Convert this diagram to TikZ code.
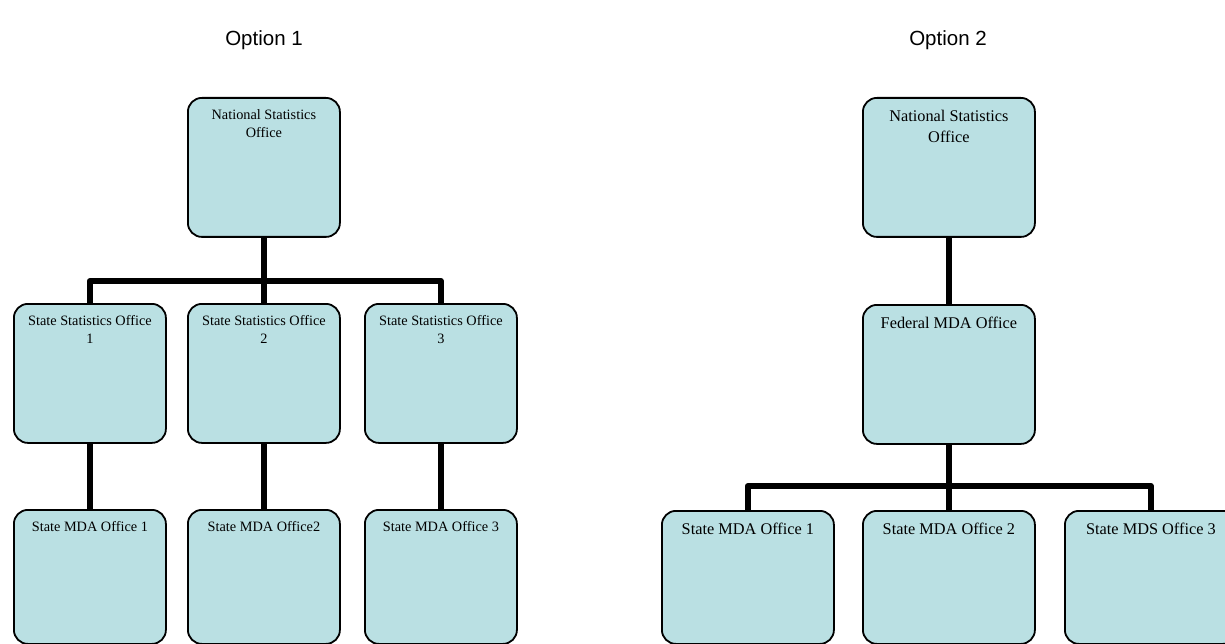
\documentclass[tikz,border=0pt]{standalone}
\usepackage{fontspec}
\setmainfont{Liberation Serif}
\newfontfamily\titlefont{Liberation Sans}
\definecolor{boxfill}{RGB}{186,224,227}
\tikzset{
  orgbox/.style={draw=black, line width=1.8pt, fill=boxfill, rounded corners=14pt,
    inner sep=0pt, anchor=north west},
  boxa/.style={orgbox, minimum width=152pt, minimum height=139pt},
  boxab/.style={orgbox, minimum width=152pt, minimum height=134pt},
  boxb/.style={orgbox, minimum width=172pt, minimum height=139pt},
  boxbb/.style={orgbox, minimum width=172pt, minimum height=133pt},
  txta/.style={label={[anchor=north, inner sep=0pt, yshift=-12.2pt, align=center,
    font=\fontsize{14.3}{18}\selectfont]north:#1}},
  txtb/.style={label={[anchor=north, inner sep=0pt, yshift=-13pt, align=center,
    font=\fontsize{16.3}{21}\selectfont]north:#1}},
  conn/.style={line width=6pt, line join=round, draw=black},
  ttl/.style={anchor=base, font=\titlefont\fontsize{20.5}{24}\selectfont}
}
\begin{document}
\begin{tikzpicture}[x=1pt,y=-1pt]
\useasboundingbox (0,0) rectangle (1225,644);
\clip (0,0) rectangle (1225,644);
% titles
\node[ttl] (t1) at (264,46) {Option 1};
\node[ttl] (t2) at (948,46) {Option 2};
% Option 1
\node[boxa, txta={National Statistics\\Office}] (n1) at (187,97) {};
\node[boxa, txta={State Statistics Office\\1}] (s1) at (13,303) {};
\node[boxa, txta={State Statistics Office\\2}] (s2) at (187,303) {};
\node[boxa, txta={State Statistics Office\\3}] (s3) at (364,303) {};
\node[boxab, txta={State MDA Office 1}] (m1) at (13,509) {};
\node[boxab, txta={State MDA Office2}] (m2) at (187,509) {};
\node[boxab, txta={State MDA Office 3}] (m3) at (364,509) {};
% Option 2
\node[boxb, txtb={National Statistics\\Office}] (n2) at (862,97) {};
\node[boxb, txtb={Federal MDA Office}] (f2) at (862,304) {};
\node[boxbb, txtb={State MDA Office 1}] (m4) at (661,510) {};
\node[boxbb, txtb={State MDA Office 2}] (m5) at (862,510) {};
\node[boxbb, txtb={State MDS Office 3}] (m6) at (1064,510) {};
% junction points
\coordinate (b1) at (n1.south |- 0,281);
\coordinate (b2) at (f2.south |- 0,486);
% connectors
\draw[conn] (n1.south) -- (b1);
\draw[conn] (s1.north) |- (b1) -| (s3.north);
\draw[conn] (b1) -- (s2.north);
\draw[conn] (s1.south) -- (m1.north);
\draw[conn] (s2.south) -- (m2.north);
\draw[conn] (s3.south) -- (m3.north);
\draw[conn] (n2.south) -- (f2.north);
\draw[conn] (f2.south) -- (b2);
\draw[conn] (m4.north) |- (b2) -| (m6.north);
\draw[conn] (b2) -- (m5.north);
\end{tikzpicture}
\end{document}
